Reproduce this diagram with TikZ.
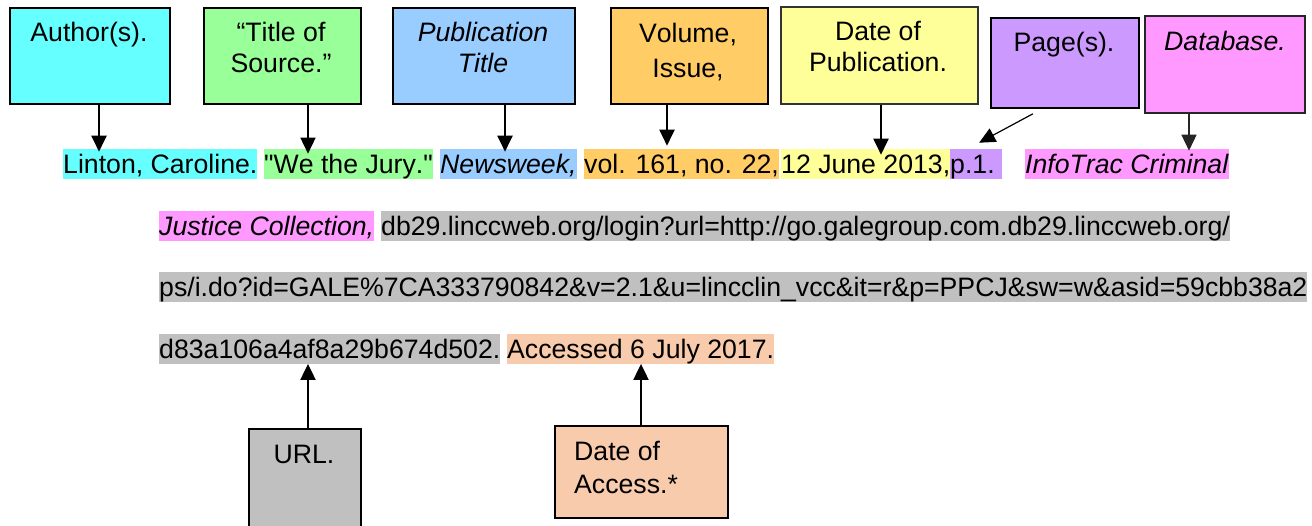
\documentclass[tikz,border=0pt]{standalone}
\usepackage{fontspec}
\newfontfamily\citefont[Kerning=Off]{Liberation Sans}
\usepackage{tikz}
\usetikzlibrary{arrows.meta}

\definecolor{authcol}{HTML}{66FFFF}
\definecolor{titlecol}{HTML}{99FF99}
\definecolor{pubcol}{HTML}{99CCFF}
\definecolor{volcol}{HTML}{FFCC66}
\definecolor{datecol}{HTML}{FFFF99}
\definecolor{pagecol}{HTML}{CC99FF}
\definecolor{dbcol}{HTML}{FF99FF}
\definecolor{urlcol}{HTML}{C0C0C0}
\definecolor{acccol}{HTML}{F8CBAD}

\begin{document}
\begin{tikzpicture}[x=1pt, y=-1pt, font=\citefont\fontsize{26.67}{31}\selectfont,
  box/.style={draw, line width=1.8pt, anchor=north west, inner sep=0pt},
  boxtxt/.style={anchor=base, align=center, inner sep=0pt},
  hl/.style={anchor=base west, inner xsep=0pt, inner ysep=0pt, text height=24.1pt, text depth=5.7pt},
  arr/.style={line width=2pt, -{Triangle[length=16pt,width=15pt]}}]
\useasboundingbox (0,0) rectangle (1312,525);

\node [box, fill=authcol, minimum width=160pt, minimum height=96pt] (author) at (9,7) {};
\node [box, fill=titlecol, minimum width=157pt, minimum height=96pt] (title) at (203,7) {};
\node [box, fill=pubcol, minimum width=182pt, minimum height=96pt] (pub) at (392,7) {};
\node [box, fill=volcol, minimum width=157pt, minimum height=96pt] (vol) at (610,7) {};
\node [box, draw=black!80, fill=datecol, minimum width=197pt, minimum height=97pt] (date) at (780,6) {};
\node [box, fill=pagecol, minimum width=148pt, minimum height=90pt] (page) at (990,17) {};
\node [box, draw=black!85, fill=dbcol, minimum width=160pt, minimum height=97pt] (db) at (1144,15) {};
\node [box, fill=urlcol, minimum width=112pt, minimum height=100pt] (url) at (248,428) {};
\node [box, fill=acccol, minimum width=173pt, minimum height=92pt] (access) at (554,425) {};

\node [boxtxt] (authortxt) at (89,41) {Author(s).};
\node [boxtxt] (titletxt) at (281,72) {“Title of\\Source.”};
\node [boxtxt] (pubtxt) at (483,72) {\textit{Publication}\\\textit{Title}};
\node [boxtxt] (voltxt) at (688,77) {Volume,\\[4pt]Issue,};
\node [boxtxt] (datetxt) at (878,71) {Date of\\Publication.};
\node [boxtxt] (pagetxt) at (1064,51) {Page(s).};
\node [boxtxt] (dbtxt) at (1225,50) {\textit{Database.}};
\node [boxtxt] (urltxt) at (304,463) {URL.};
\node [boxtxt, anchor=base west, align=left] (acctxt) at (574,493) {Date of\\[2pt]Access.*};

\node [hl, fill=authcol] (linton) at (63,173) {Linton, Caroline.};
\node [hl, fill=titlecol] (jury) at (264,173) {"We the Jury."};
\node [hl, fill=pubcol] (newsweek) at (440,173) {\textit{Newsweek,}};
\node [hl, fill=volcol] (volno) at (584,173) {vol. 161, no. 22,};
\node [hl, fill=datecol] (pubdate) at (781,173) {12 June 2013,};
\node [hl, fill=pagecol] (pages) at (950,173) {p.1.\kern7.4pt};
\node [hl, fill=dbcol] (infotrac) at (1025,173) {\textit{InfoTrac Criminal}};
\node [hl, fill=dbcol] (justice) at (159,235) {\textit{Justice Collection,}};
\node [hl, fill=urlcol] (urla) at (381,235) {db29.linccweb.org/login?url=http://go.galegroup.com.db29.linccweb.org/};
\node [hl, fill=urlcol] (urlb) at (159,296.5) {ps/i.do?id=GALE\%7CA333790842\&v=2.1\&u=lincclin\_vcc\&it=r\&p=PPCJ\&sw=w\&asid=59cbb38a2};
\node [hl, fill=urlcol] (urlc) at (159,358) {d83a106a4af8a29b674d502.};
\node [hl, fill=acccol] (accessed) at (507,358) {Accessed 6 July 2017.};

\draw [arr, shorten >=-3pt] (author.south -| 99,0) -- (linton.north -| 99,0);
\draw [arr, line width=1.5pt, shorten >=-5pt] (title.south -| 308,0) -- (jury.north -| 308,0);
\draw [arr, shorten >=-3pt] (pub.south -| 505,0) -- (newsweek.north -| 505,0);
\draw [arr, shorten >=3pt] (vol.south -| 667,0) -- (volno.north -| 667,0);
\draw [arr, shorten >=-6pt] (date.south -| 881,0) -- (pubdate.north -| 881,0);
\draw [arr, line width=1.2pt] ([xshift=-32pt, yshift=-5pt]page.south) -- ([xshift=3pt, yshift=6pt]pages.north);
\draw [arr, line width=1.5pt, black!85, shorten >=-2pt] (db.south -| 1189,0) -- (infotrac.north -| 1189,0);
\draw [arr] (url.north -| 308,0) -- (urlc.south -| 308,0);
\draw [arr] (access.north -| 641,0) -- (accessed.south -| 641,0);
\end{tikzpicture}
\end{document}
